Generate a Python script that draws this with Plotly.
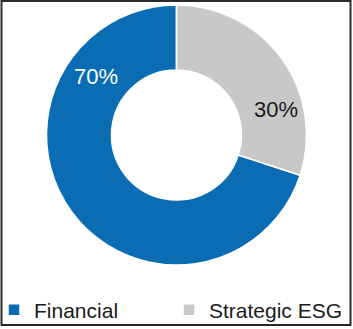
import plotly.graph_objects as go

W, H = 353, 329
MB = 42                 # bottom margin holding the legend
PH = H - MB             # plot-area height

labels = ["Financial", "Strategic ESG"]
values = [70, 30]
colors = ["#0a6db3", "#c8c8c9"]
pct_text = ["70%", "30%"]
text_colors = ["#ffffff", "#1a1a1a"]

FONT = "Liberation Sans, Arial, Helvetica, sans-serif"


def py(p):
    """pixel row (from top) -> paper y of the plot area"""
    return (PH - p) / PH


fig = go.Figure(go.Pie(
    labels=labels,
    values=values,
    hole=0.5,
    sort=False,
    direction="clockwise",
    rotation=108,
    marker=dict(colors=colors, line=dict(color="#ffffff", width=1.5)),
    textinfo="none",
    hoverinfo="label+percent",
    domain=dict(x=[46.5 / W, 306.5 / W], y=[py(265), py(5)]),
))

# percentage labels
label_pos = [(96, 76), (276, 109)]
for t, c, (lx, ly) in zip(pct_text, text_colors, label_pos):
    fig.add_annotation(
        x=lx / W, y=py(ly), xref="paper", yref="paper",
        text=t, showarrow=False,
        font=dict(family=FONT, size=22, color=c),
        xanchor="center", yanchor="middle",
    )

# border
fig.add_shape(
    type="rect", xref="paper", yref="paper",
    x0=1.5 / W, x1=350.5 / W, y0=py(325), y1=py(1),
    line=dict(color="#2a2a2a", width=2),
)

fig.update_layout(
    width=W, height=H,
    margin=dict(l=0, r=0, t=0, b=MB, autoexpand=False),
    paper_bgcolor="#ffffff",
    plot_bgcolor="#ffffff",
    showlegend=True,
    legend=dict(
        orientation="h",
        x=-6 / W, xanchor="left",
        y=py(310), yanchor="middle",
        font=dict(family=FONT, size=21, color="#1a1a1a"),
        entrywidth=130,
        itemclick=False, itemdoubleclick=False,
        bgcolor="rgba(0,0,0,0)",
    ),
    font=dict(family=FONT),
)

fig.write_html("out.html")
